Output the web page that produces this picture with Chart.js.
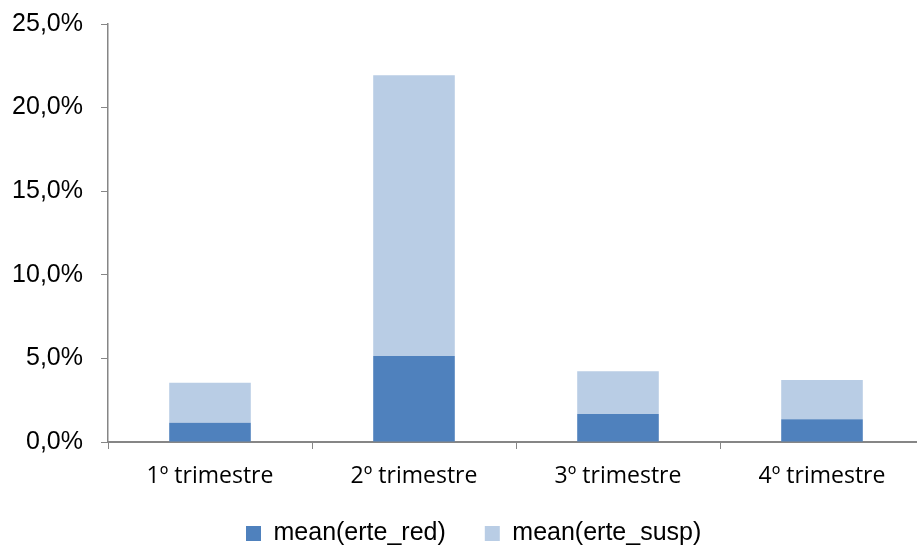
<!DOCTYPE html>
<html>
<head>
<meta charset="utf-8">
<script src="https://cdn.jsdelivr.net/npm/chart.js@4/dist/chart.umd.min.js"></script>
<style>
  html, body { margin: 0; padding: 0; background: #fff; overflow: hidden; }
  #wrap { width: 917px; height: 549px; overflow: hidden; position: relative; }
  canvas { display: block; }
</style>
</head>
<body>
<div id="wrap"><canvas id="c" width="924" height="549"></canvas></div>
<script>
const categories = ['1º trimestre', '2º trimestre', '3º trimestre', '4º trimestre'];
const erteRed = [1.15, 5.14, 1.67, 1.36];
const erteSusp = [2.40, 16.79, 2.56, 2.35];
const yTicks = [0, 5, 10, 15, 20, 25];
const seriesNames = ['mean(erte_red)', 'mean(erte_susp)'];

const AXIS = '#868686';

const legendMover = {
  id: 'legendMover',
  afterInit(chart) {
    const lg = chart.legend;
    if (!lg) return;
    const origFit = lg.fit.bind(lg);
    lg.fit = function () { origFit(); this.height = 47; };
  },
  afterLayout(chart) {
    const lg = chart.legend;
    if (!lg || !lg.lineWidths) return;
    const pad = lg.options.labels.padding;
    const content = lg.lineWidths[0] - pad;
    const curStart = (lg.left + lg.right - content) / 2;
    const dx = 246 - curStart;
    lg.left += dx; lg.right += dx;
    lg.top = 521 - pad;
    lg.bottom = 549;
    lg.height = lg.bottom - lg.top;
  }
};

new Chart(document.getElementById('c'), {
  type: 'bar',
  data: {
    labels: categories,
    datasets: [
      { label: seriesNames[0], data: erteRed, backgroundColor: '#4F81BD', borderWidth: 0 },
      { label: seriesNames[1], data: erteSusp, backgroundColor: '#B9CDE5', borderWidth: 0 }
    ]
  },
  options: {
    responsive: false,
    animation: false,
    layout: { padding: { top: 24, left: 0, right: 0, bottom: 0 } },
    datasets: { bar: { categoryPercentage: 1, barPercentage: 0.4 } },
    plugins: {
      tooltip: { enabled: false },
      legend: {
        position: 'bottom',
        labels: {
          boxWidth: 15, boxHeight: 15, padding: 39, color: '#000',
          font: { family: '"Liberation Sans", Arial, sans-serif', size: 25 }
        }
      }
    },
    scales: {
      x: {
        stacked: true,
        grid: { display: true, drawOnChartArea: false, drawTicks: true, tickLength: 7, color: AXIS, offset: true },
        border: { display: true, color: AXIS, width: 2 },
        ticks: { color: '#000', padding: 14, maxRotation: 0, font: { family: '"Open Sans", sans-serif', size: 23 } },
        afterFit(scale) { scale.height = 60; }
      },
      y: {
        stacked: true,
        min: 0, max: 25,
        afterBuildTicks(scale) { scale.ticks = yTicks.map(v => ({ value: v })); },
        grid: { display: true, drawOnChartArea: false, drawTicks: true, tickLength: 7, color: AXIS },
        border: { display: true, color: AXIS, width: 1.5 },
        ticks: {
          color: '#000', padding: 18,
          font: { family: '"Liberation Sans", Arial, sans-serif', size: 25 },
          callback: v => v.toFixed(1).replace('.', ',') + '%'
        },
        afterFit(scale) { scale.width = 108; scale.paddingTop = 0; scale.paddingBottom = 0; }
      }
    }
  },
  plugins: [legendMover]
});
</script>
</body>
</html>
